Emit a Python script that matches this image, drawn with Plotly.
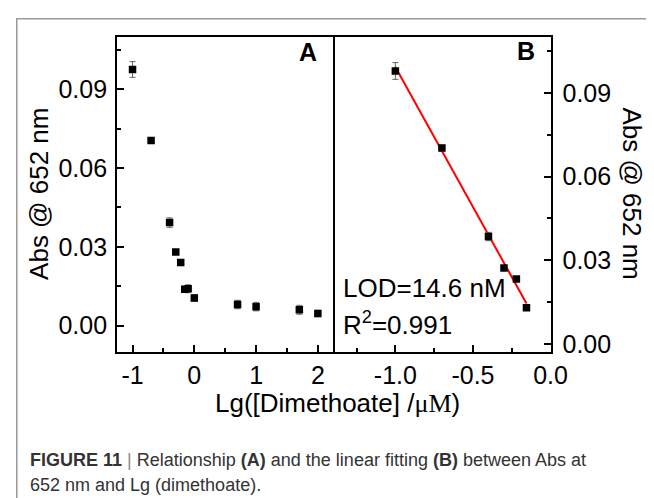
import plotly.graph_objects as go

# Panel A: full concentration range
lg_conc_a = [-1.0, -0.7, -0.4, -0.3, -0.22, -0.155, -0.1, 0.0, 0.7, 1.0, 1.7, 2.0]
abs_a = [0.0975, 0.0705, 0.0392, 0.0280, 0.0240, 0.0138, 0.0140, 0.0105, 0.0080, 0.0072, 0.0060, 0.0046]
err_a = [0.0030, 0.0010, 0.0018, 0.0008, 0.0008, 0.0012, 0.0015, 0.0012, 0.0016, 0.0016, 0.0017, 0.0012]

# Panel B: linear region
lg_conc_b = [-1.0, -0.7, -0.4, -0.3, -0.22, -0.155]
abs_b = [0.0978, 0.0702, 0.0385, 0.0272, 0.0233, 0.0130]
err_b = [0.0030, 0.0010, 0.0015, 0.0008, 0.0008, 0.0010]

fit_slope = -0.1002
fit_intercept = -0.0010

# tick labels (plain hyphen minus, as in the original)
xa_ticks = [-1, 0, 1, 2]
xa_labels = ["-1", "0", "1", "2"]
xb_ticks = [-1.0, -0.5, 0.0]
xb_labels = ["-1.0", "-0.5", "0.0"]
y_ticks = [0.0, 0.03, 0.06, 0.09]
y_labels = ["0.00", "0.03", "0.06", "0.09"]

W, H = 654, 498
FONT = "Liberation Sans, Arial, sans-serif"
CAP_FONT = "Liberation Sans Narrow, Liberation Sans, Arial, sans-serif"


def px(x):
    return x / W


def py(y):
    return 1 - y / H


fig = go.Figure()

fig.add_trace(go.Scatter(
    x=lg_conc_a, y=abs_a, mode="markers",
    marker=dict(symbol="square", size=7.5, color="black"),
    error_y=dict(type="data", array=err_a, color="#666666", thickness=1, width=3),
    xaxis="x", yaxis="y", showlegend=False))

fit_x = [lg_conc_b[0], lg_conc_b[-1]]
fit_y = [fit_intercept + fit_slope * v for v in fit_x]
fig.add_trace(go.Scatter(
    x=fit_x, y=fit_y, mode="lines", line=dict(color="red", width=2),
    xaxis="x2", yaxis="y2", showlegend=False))

fig.add_trace(go.Scatter(
    x=lg_conc_b, y=abs_b, mode="markers",
    marker=dict(symbol="square", size=7.5, color="black"),
    error_y=dict(type="data", array=err_b, color="#666666", thickness=1, width=3),
    xaxis="x2", yaxis="y2", showlegend=False))

axis_common = dict(showline=True, linecolor="black", linewidth=2,
                   ticks="inside", ticklen=7, tickwidth=2, tickcolor="black",
                   showgrid=False, zeroline=False,
                   tickfont=dict(family=FONT, size=25, color="black"))

dom_y = [py(348), py(29)]

fig.update_layout(
    width=W, height=H,
    margin=dict(l=0, r=0, t=0, b=0),
    paper_bgcolor="white", plot_bgcolor="white",
    xaxis=dict(domain=[px(112), px(334)], range=[-1.25, 2.25],
               tickvals=xa_ticks, ticktext=xa_labels, mirror=True,
               minor=dict(ticks="inside", ticklen=4, tickwidth=2, dtick=0.5, tick0=0),
               anchor="y", **axis_common),
    yaxis=dict(domain=dom_y, range=[-0.010, 0.110],
               tickvals=y_ticks, ticktext=y_labels, mirror=True, ticklabelstandoff=3,
               minor=dict(ticks="inside", ticklen=4, tickwidth=2, dtick=0.015, tick0=0),
               anchor="x", **axis_common),
    xaxis2=dict(domain=[px(334), px(557)], range=[-1.4, 0.0],
                tickvals=xb_ticks, ticktext=xb_labels, mirror=True,
                minor=dict(ticks="inside", ticklen=4, tickwidth=2, dtick=0.25, tick0=0),
                anchor="y2", **axis_common),
    yaxis2=dict(domain=dom_y, range=[-0.0028, 0.1101],
                tickvals=y_ticks, ticktext=y_labels, mirror=False, ticklabelstandoff=5,
                minor=dict(ticks="inside", ticklen=4, tickwidth=2, dtick=0.015, tick0=0),
                anchor="x2", side="right", **axis_common),
)

ann = []
# panel letters
ann.append(dict(x=px(308), y=py(45), text="<b>A</b>", font=dict(family=FONT, size=25, color="black")))
ann.append(dict(x=px(532), y=py(44), text="<b>B</b>", font=dict(family=FONT, size=25, color="black")))
# axis titles
ann.append(dict(x=px(32), y=py(188), text="Abs @ 652 nm", textangle=-90,
                font=dict(family=FONT, size=26, color="black")))
ann.append(dict(x=px(641), y=py(188), text="Abs @ 652 nm", textangle=90,
                font=dict(family=FONT, size=26, color="black")))
ann.append(dict(x=px(338), y=py(400),
                text="Lg([Dimethoate] /<span style='font-family:Liberation Serif, Times New Roman, serif'>\u03bcM</span>)",
                font=dict(family=FONT, size=26, color="black")))
# fit info
ann.append(dict(x=px(342), y=py(283), text="LOD=14.6 nM", xanchor="left",
                font=dict(family=FONT, size=26, color="black")))
ann.append(dict(x=px(342), y=py(319), text="R<sup>2</sup>=0.991", xanchor="left",
                font=dict(family=FONT, size=26, color="black")))
# caption
ann.append(dict(x=px(21), y=py(458), xanchor="left",
                text="<b>FIGURE 11</b> <span style='color:#888'>|</span> Relationship <b>(A)</b> and the linear fitting <b>(B)</b> between Abs at",
                font=dict(family=CAP_FONT, size=18, color="#333333")))
ann.append(dict(x=px(21), y=py(483), xanchor="left",
                text="652 nm and Lg (dimethoate).",
                font=dict(family=CAP_FONT, size=18, color="#333333")))

for a in ann:
    a.update(xref="paper", yref="paper", showarrow=False)
    a.setdefault("xanchor", "center")
    a.setdefault("yanchor", "middle")
fig.update_layout(annotations=ann)

# article figure frame (left and top edges visible)
fig.add_shape(type="rect", xref="paper", yref="paper",
              x0=px(9), x1=px(700), y0=py(560), y1=py(11),
              line=dict(color="#999999", width=1.5))

fig.write_html("out.html")
